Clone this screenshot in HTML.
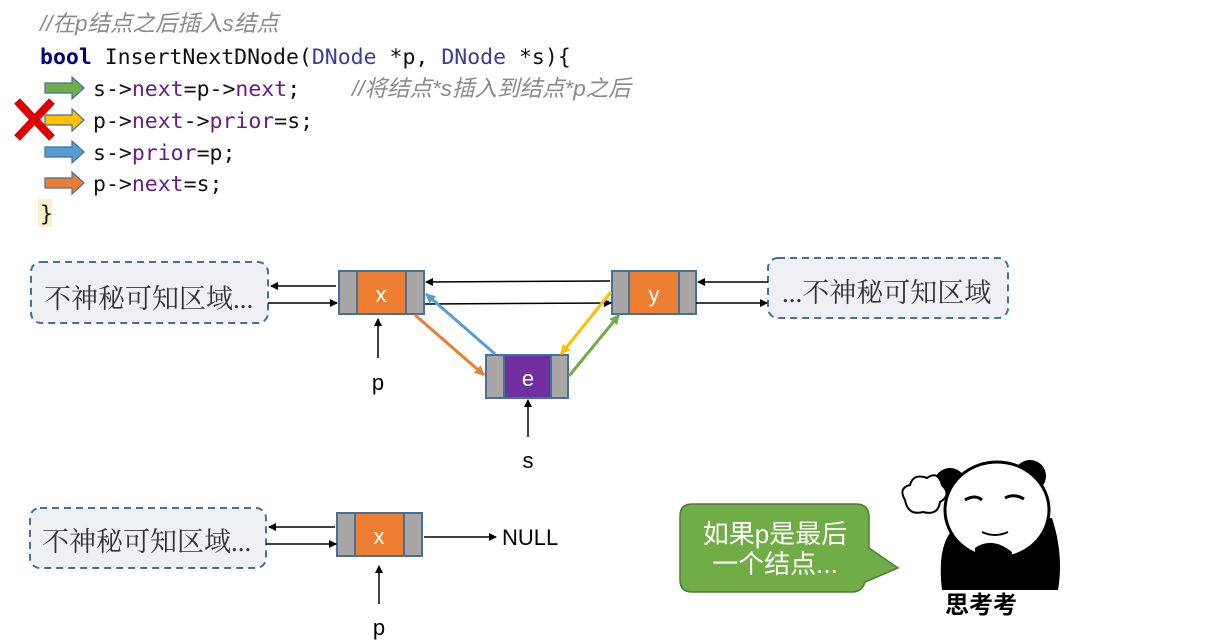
<!DOCTYPE html>
<html><head><meta charset="utf-8"><style>
html,body{margin:0;padding:0;background:#fff;width:1216px;height:644px;overflow:hidden}
svg{display:block}
.code{font-family:"DejaVu Sans Mono","Liberation Mono",monospace;font-size:21.5px;fill:#111}
.kw{fill:#6a1b8a}
.ty{fill:#3b3b9a}
.cm{font-family:"Liberation Sans","Noto Sans CJK SC",sans-serif;font-style:italic;fill:#8a8a8a;font-size:22.5px}
.cn{font-family:"Liberation Serif","Noto Serif CJK SC",serif;font-size:27px;fill:#333}
.lb{font-family:"Liberation Sans",sans-serif;font-size:22px}
</style></head><body>
<svg width="1216" height="644" viewBox="0 0 1216 644" xmlns="http://www.w3.org/2000/svg">
<defs>
<marker id="ab" markerWidth="8" markerHeight="8" refX="7" refY="4" orient="auto" markerUnits="userSpaceOnUse"><path d="M0,0 L8,4 L0,8 z" fill="#000"/></marker>
<marker id="ao" markerWidth="10" markerHeight="10" refX="9" refY="5" orient="auto" markerUnits="userSpaceOnUse"><path d="M0,0 L10,5 L0,10 z" fill="#ed7d31"/></marker>
<marker id="abl" markerWidth="10" markerHeight="10" refX="9" refY="5" orient="auto" markerUnits="userSpaceOnUse"><path d="M0,0 L10,5 L0,10 z" fill="#5b9bd5"/></marker>
<marker id="ay" markerWidth="10" markerHeight="10" refX="9" refY="5" orient="auto" markerUnits="userSpaceOnUse"><path d="M0,0 L10,5 L0,10 z" fill="#ffc000"/></marker>
<marker id="ag" markerWidth="10" markerHeight="10" refX="9" refY="5" orient="auto" markerUnits="userSpaceOnUse"><path d="M0,0 L10,5 L0,10 z" fill="#70ad47"/></marker>
</defs>

<!-- code -->
<text x="40" y="31" class="cm">//在p结点之后插入s结点</text>
<text x="40" y="64" class="code"><tspan font-weight="bold" fill="#000080">bool</tspan> InsertNextDNode(<tspan class="ty">DNode</tspan> *p, <tspan class="ty">DNode</tspan> *s){</text>
<text x="93" y="96" class="code">s-&gt;<tspan class="kw">next</tspan>=p-&gt;<tspan class="kw">next</tspan>;</text>
<text x="352" y="96" class="cm">//将结点*s插入到结点*p之后</text>
<text x="93" y="128" class="code">p-&gt;<tspan class="kw">next</tspan>-&gt;<tspan class="kw">prior</tspan>=s;</text>
<text x="93" y="160" class="code">s-&gt;<tspan class="kw">prior</tspan>=p;</text>
<text x="93" y="191" class="code">p-&gt;<tspan class="kw">next</tspan>=s;</text>
<rect x="38" y="199" width="14" height="28" fill="#f7f0c8"/>
<text x="40" y="221" class="code">}</text>

<!-- block arrows -->
<g stroke-width="1.2">
<path d="M45,83 H72 V77 L84,88 L72,99 V93 H45 Z" fill="#70ad47" stroke="#41719c"/>
<path d="M45,115 H72 V109 L84,120 L72,131 V125 H45 Z" fill="#ffc000" stroke="#41719c"/>
<path d="M45,147 H72 V141 L84,152 L72,163 V157 H45 Z" fill="#5b9bd5" stroke="#41719c"/>
<path d="M45,178 H72 V172 L84,183 L72,194 V188 H45 Z" fill="#ed7d31" stroke="#41719c"/>
</g>
<path d="M17,101 L52,138 M52,101 L17,138" stroke="#e00000" stroke-width="8"/>

<!-- top diagram boxes -->
<rect x="31" y="262" width="237" height="61" rx="10" fill="#eef0f4" stroke="#41719c" stroke-width="2" stroke-dasharray="7,5"/>
<text x="44" y="308" class="cn">不神秘可知区域...</text>
<rect x="768" y="258" width="240" height="60" rx="10" fill="#eef0f4" stroke="#41719c" stroke-width="2" stroke-dasharray="7,5"/>
<text x="782" y="302" class="cn">...不神秘可知区域</text>

<!-- node x -->
<rect x="339" y="271" width="85" height="43" fill="#aaa6a6" stroke="#41719c" stroke-width="2"/>
<rect x="357" y="271" width="49" height="43" fill="#ed7d31" stroke="#41719c" stroke-width="2"/>
<text x="381" y="302" class="lb" fill="#fff" text-anchor="middle">x</text>
<!-- node y -->
<rect x="612" y="271" width="84" height="43" fill="#aaa6a6" stroke="#41719c" stroke-width="2"/>
<rect x="629" y="271" width="50" height="43" fill="#ed7d31" stroke="#41719c" stroke-width="2"/>
<text x="654" y="302" class="lb" fill="#fff" text-anchor="middle">y</text>
<!-- node e -->
<rect x="486" y="355" width="82" height="43" fill="#aaa6a6" stroke="#41719c" stroke-width="2"/>
<rect x="504" y="355" width="47" height="43" fill="#7030a0" stroke="#41719c" stroke-width="2"/>
<text x="528" y="386" class="lb" fill="#fff" text-anchor="middle">e</text>

<g stroke="#000" stroke-width="1.5" fill="none">
<line x1="336" y1="286" x2="271" y2="286" marker-end="url(#ab)"/>
<line x1="268" y1="303" x2="337" y2="303" marker-end="url(#ab)"/>
<line x1="610" y1="281" x2="426" y2="282" marker-end="url(#ab)"/>
<line x1="425" y1="304" x2="611" y2="303" marker-end="url(#ab)"/>
<line x1="768" y1="282" x2="698" y2="282" marker-end="url(#ab)"/>
<line x1="696" y1="303" x2="767" y2="303" marker-end="url(#ab)"/>
<line x1="378" y1="358" x2="378" y2="319" marker-end="url(#ab)"/>
<line x1="528" y1="437" x2="528" y2="400" marker-end="url(#ab)"/>
</g>
<g stroke-width="3" fill="none">
<line x1="415" y1="315" x2="484" y2="375" stroke="#ed7d31" marker-end="url(#ao)"/>
<line x1="495" y1="354" x2="426" y2="294" stroke="#5b9bd5" marker-end="url(#abl)"/>
<line x1="611" y1="292" x2="561" y2="354" stroke="#ffc000" marker-end="url(#ay)"/>
<line x1="569" y1="376" x2="619" y2="315" stroke="#70ad47" marker-end="url(#ag)"/>
</g>
<text x="378" y="390" class="lb" fill="#000" text-anchor="middle">p</text>
<text x="528" y="468" class="lb" fill="#000" text-anchor="middle">s</text>

<!-- bottom diagram -->
<rect x="30" y="508" width="236" height="60" rx="10" fill="#eef0f4" stroke="#41719c" stroke-width="2" stroke-dasharray="7,5"/>
<text x="42" y="551" class="cn">不神秘可知区域...</text>
<rect x="337" y="513" width="85" height="43" fill="#aaa6a6" stroke="#41719c" stroke-width="2"/>
<rect x="355" y="513" width="49" height="43" fill="#ed7d31" stroke="#41719c" stroke-width="2"/>
<text x="379" y="544" class="lb" fill="#fff" text-anchor="middle">x</text>
<g stroke="#000" stroke-width="1.5" fill="none">
<line x1="335" y1="527" x2="269" y2="527" marker-end="url(#ab)"/>
<line x1="266" y1="544" x2="336" y2="544" marker-end="url(#ab)"/>
<line x1="424" y1="537" x2="496" y2="537" marker-end="url(#ab)"/>
<line x1="379" y1="604" x2="379" y2="566" marker-end="url(#ab)"/>
</g>
<text x="502" y="545" class="lb" fill="#000">NULL</text>
<text x="379" y="635" class="lb" fill="#000" text-anchor="middle">p</text>

<!-- bubble -->
<path d="M692,504 H856 Q869,504 869,517 V548 L898,568 L865,582 Q862,592 852,592 H692 Q680,592 680,580 V516 Q680,504 692,504 Z" fill="#70ad47" stroke="#507e32" stroke-width="1.5"/>
<text x="775" y="543" font-family="Liberation Sans,Noto Sans CJK SC,sans-serif" font-size="26" fill="#fff" text-anchor="middle">如果p是最后</text>
<text x="775" y="573" font-family="Liberation Sans,Noto Sans CJK SC,sans-serif" font-size="26" fill="#fff" text-anchor="middle">一个结点...</text>

<!-- panda -->
<circle cx="950" cy="484" r="16" fill="#000"/>
<circle cx="1030" cy="476" r="16" fill="#000"/>
<path d="M942,590 Q936,540 958,525 L1052,518 Q1064,555 1058,590 Z" fill="#000"/>
<ellipse cx="997" cy="510" rx="52" ry="48" fill="#fff" stroke="#000" stroke-width="3"/>
<path d="M965,500 Q975,494 982,500 M1005,498 Q1014,493 1024,499" stroke="#000" stroke-width="3" fill="none"/>
<path d="M982,532 Q995,538 1008,532" stroke="#000" stroke-width="2" fill="none"/>
<path d="M975,548 Q992,536 1012,552 L1007,588 L975,588 Z" fill="#000"/>
<path d="M905,500 Q898,488 910,485 Q913,473 927,478 Q938,470 942,485 Q952,495 940,502 Q938,516 923,512 Q908,516 905,500 Z" fill="#fff" stroke="#000" stroke-width="2"/>
<text x="981" y="613" font-family="Noto Sans CJK SC,sans-serif" font-weight="bold" font-size="24" fill="#000" text-anchor="middle">思考考</text>
</svg>
</body></html>
